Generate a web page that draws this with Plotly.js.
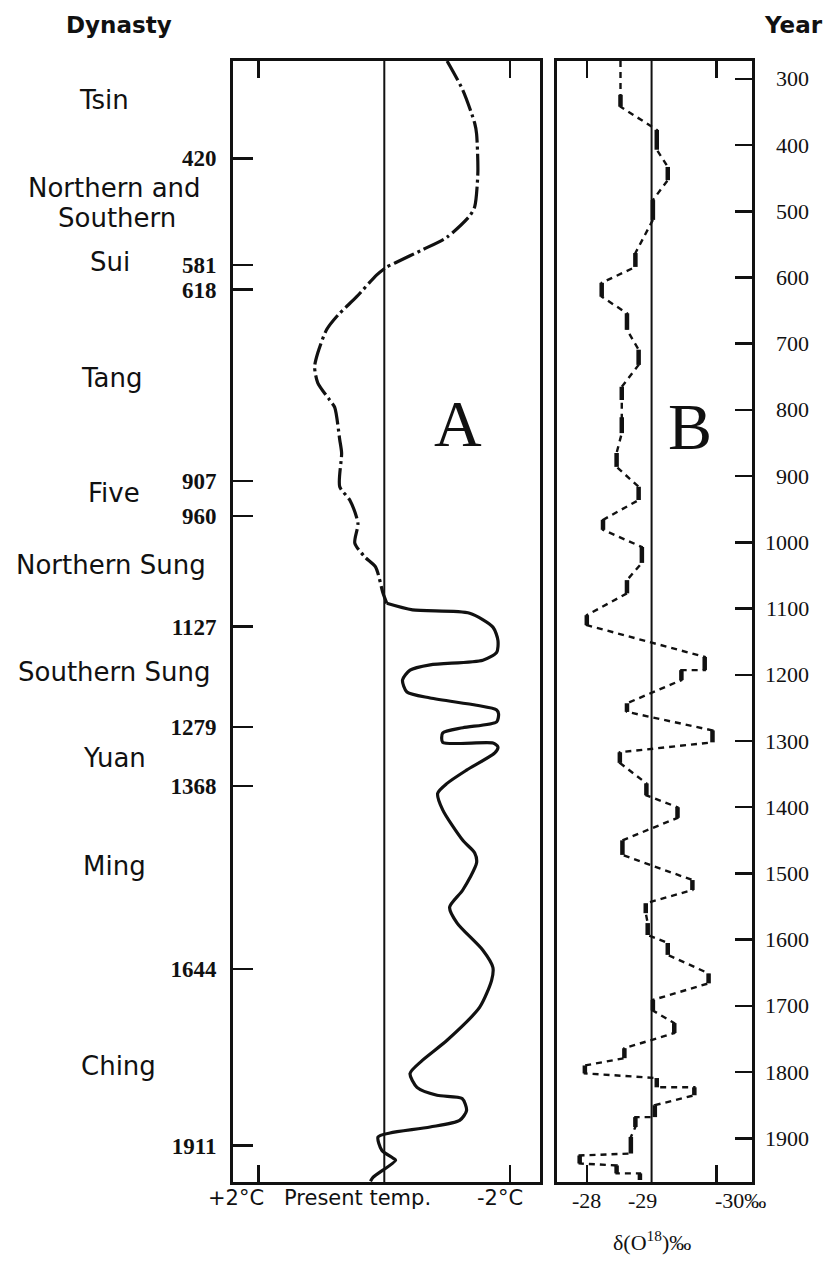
<!DOCTYPE html>
<html><head><meta charset="utf-8">
<script src="https://cdn.plot.ly/plotly-3.0.1.min.js"></script>
<style>html,body{margin:0;padding:0;background:#fff}#chart{width:827px;height:1277px}</style>
</head><body><div id="chart"></div>
<script>
// ---- Panel A: temperature anomaly (°C, positive = warmer than present) ----
const aYear = [273,317,367,383,442,493,507,539,558,578,584,596,629,657,679,714,735,759,785,796,845,865,916,936,971,1001,1022,1037,1077,1092,1102,1107,1128,1148,1166,1178,1185,1193,1208,1226,1235,1246,1253,1259,1271,1280,1288,1302,1303,1309,1318,1344,1364,1379,1404,1450,1469,1484,1525,1551,1575,1616,1642,1661,1702,1752,1782,1802,1823,1835,1840,1858,1873,1883,1892,1898,1918,1930,1933,1959,1965];
const aTemp = [-1.00,-1.25,-1.44,-1.47,-1.49,-1.44,-1.36,-1.00,-0.61,-0.17,-0.04,0.12,0.44,0.74,0.92,1.06,1.11,1.06,0.87,0.79,0.71,0.68,0.71,0.55,0.42,0.47,0.31,0.14,0.02,-0.04,-0.45,-1.36,-1.73,-1.81,-1.79,-1.57,-0.73,-0.41,-0.29,-0.36,-0.73,-1.47,-1.79,-1.82,-1.79,-1.25,-0.93,-0.93,-1.73,-1.81,-1.76,-1.31,-1.00,-0.85,-0.93,-1.25,-1.44,-1.47,-1.25,-1.04,-1.16,-1.57,-1.73,-1.71,-1.52,-1.00,-0.61,-0.41,-0.52,-0.84,-1.24,-1.31,-1.20,-0.73,-0.09,0.10,0.04,-0.14,-0.18,0.18,0.22];
const aDashEndYear = 1092;   // dash-dot part ends, solid part begins

// ---- Panel B: delta O-18 (per mil), value held over [from, to] ----
const bValue = [-28.52,-29.08,-29.25,-29.02,-28.75,-28.23,-28.62,-28.80,-28.54,-28.54,-28.46,-28.80,-28.25,-28.85,-28.62,-28.00,-29.82,-29.46,-28.62,-29.94,-28.51,-28.92,-29.40,-28.55,-29.63,-28.91,-28.94,-29.25,-29.88,-29.02,-29.35,-28.58,-27.97,-29.08,-29.66,-29.05,-28.75,-28.68,-27.89,-28.46,-28.82];
const bFrom  = [324,377,433,483,563,608,654,709,765,811,865,916,966,1007,1057,1110,1173,1193,1243,1284,1317,1364,1400,1450,1510,1545,1575,1605,1651,1691,1726,1764,1790,1809,1823,1850,1868,1898,1926,1941,1953];
const bTo    = [342,407,453,513,584,629,679,732,785,835,886,936,981,1031,1077,1125,1193,1208,1256,1302,1333,1382,1416,1472,1525,1560,1593,1623,1666,1707,1741,1779,1802,1823,1835,1868,1883,1923,1938,1953,1963];

// ---- Axes / labels ----
const yearRange = [1966, 273];
const dynastyYears = [420,581,618,907,960,1127,1279,1368,1644,1911];
const dynastyYearLabels = ['420','581','618','907','960','1127','1279','1368','1644','1911'];
const yearTicks = [300,400,500,600,700,800,900,1000,1100,1200,1300,1400,1500,1600,1700,1800,1900];
const yearTickLabels = yearTicks.map(String);
const tempTicks = [2,-2];
const o18Ticks = [-28,-30];
const dynastyNames = ['Tsin','Northern and','Southern','Sui','Tang','Five','Northern Sung','Southern Sung','Yuan','Ming','Ching'];

const W = 827, H = 1277;
const px = x => x / W, py = y => 1 - y / H;
const INK = '#111';

// split A into its two drawing styles
const aDashX = [], aDashY = [], aSolX = [], aSolY = [];
aYear.forEach((yr, i) => {
  if (yr <= aDashEndYear) { aDashX.push(aTemp[i]); aDashY.push(yr); }
  if (yr >= aDashEndYear) { aSolX.push(aTemp[i]); aSolY.push(yr); }
});

// B paths
const bPathX = [bValue[0]], bPathY = [yearRange[1]];
const bBarX = [], bBarY = [];
bValue.forEach((v, i) => {
  bPathX.push(v, v); bPathY.push(bFrom[i], bTo[i]);
  bBarX.push(v, v, null); bBarY.push(bFrom[i], bTo[i], null);
});

const traces = [
  {x: aDashX, y: aDashY, xaxis: 'x', yaxis: 'y', mode: 'lines', hoverinfo: 'skip',
   line: {color: INK, width: 3.2, dash: '22px,4px,3px,4px', shape: 'spline', smoothing: 0.7}},
  {x: aSolX, y: aSolY, xaxis: 'x', yaxis: 'y', mode: 'lines', hoverinfo: 'skip',
   line: {color: INK, width: 3.2, shape: 'spline', smoothing: 0.7}},
  {x: bPathX, y: bPathY, xaxis: 'x2', yaxis: 'y2', mode: 'lines', hoverinfo: 'skip',
   line: {color: INK, width: 2.4, dash: '6px,5px'}},
  {x: bBarX, y: bBarY, xaxis: 'x2', yaxis: 'y2', mode: 'lines', hoverinfo: 'skip', connectgaps: false,
   line: {color: INK, width: 4.5}}
];

const yDom = [py(1182), py(61)];
const axisCommon = {showgrid: false, zeroline: false, showline: true, linecolor: INK, linewidth: 3,
  ticks: 'inside', tickcolor: INK, tickwidth: 2.5, fixedrange: true};

const sans = 'DejaVu Sans', serif = 'Liberation Serif';
const ann = [];
function label(text, x, y, size, family, weight) {
  ann.push({text: text, x: px(x), y: py(y), xref: 'paper', yref: 'paper',
    xanchor: 'center', yanchor: 'middle', showarrow: false,
    font: {family: family, size: size, color: INK, weight: weight || 'normal'}});
}
label('Dynasty', 119, 25, 23, sans, 'bold');
label('Year', 793, 25, 23, sans, 'bold');
const dynPos = [[104,100],[115,188],[117,218],[110,262],[112,378],[114,493],[111,565],[115,672],[114,758],[115,866],[118,1066]];
dynastyNames.forEach((n, i) => label(n, dynPos[i][0], dynPos[i][1], 26, sans));
label('A', 458, 423, 66, serif);
label('B', 690, 426, 66, serif);
label('+2°C', 236, 1198, 21, sans);
label('Present temp.', 357, 1198, 21, sans);
label('-2°C', 500, 1198, 21, sans);
label('-28', 586, 1200, 22, serif);
label('-29', 642, 1200, 22, serif);
label('-30‰', 740, 1200, 22, serif);
label('δ(O<sup>18</sup>)‰', 652, 1241, 22, serif);
// year labels, right-aligned, placed at their years
yearTicks.forEach((yr, i) => ann.push({text: yearTickLabels[i], x: px(811), y: yr, xref: 'paper', yref: 'y2',
  xanchor: 'right', yanchor: 'middle', showarrow: false, font: {family: serif, size: 22, color: INK}}));

const layout = {
  width: W, height: H, margin: {l: 0, r: 0, t: 0, b: 0},
  paper_bgcolor: '#fff', plot_bgcolor: '#fff', showlegend: false,
  xaxis: Object.assign({}, axisCommon, {domain: [px(233), px(540)], range: [2.41, -2.48], anchor: 'y',
    tickvals: tempTicks, ticklen: 17, mirror: 'ticks', showticklabels: false}),
  yaxis: Object.assign({}, axisCommon, {domain: yDom, range: yearRange, anchor: 'x',
    tickvals: dynastyYears, ticktext: dynastyYearLabels, ticklen: 20, mirror: true,
    ticklabelstandoff: 9, tickfont: {family: serif, size: 23, color: INK, weight: 'bold'}}),
  xaxis2: Object.assign({}, axisCommon, {domain: [px(557), px(752)], range: [-27.54, -30.55], anchor: 'y2',
    tickvals: o18Ticks, ticklen: 17, mirror: 'ticks', showticklabels: false}),
  yaxis2: Object.assign({}, axisCommon, {domain: yDom, range: yearRange, anchor: 'x2', side: 'right',
    tickvals: yearTicks, ticklen: 17, mirror: true, showticklabels: false}),
  shapes: [
    {type: 'line', xref: 'x', yref: 'y domain', x0: 0, x1: 0, y0: 0, y1: 1, line: {color: INK, width: 2}},
    {type: 'line', xref: 'x2', yref: 'y2 domain', x0: -29, x1: -29, y0: 0, y1: 1, line: {color: INK, width: 2}}
  ],
  annotations: ann
};
Plotly.newPlot('chart', traces, layout, {displayModeBar: false, staticPlot: true});
</script></body></html>
